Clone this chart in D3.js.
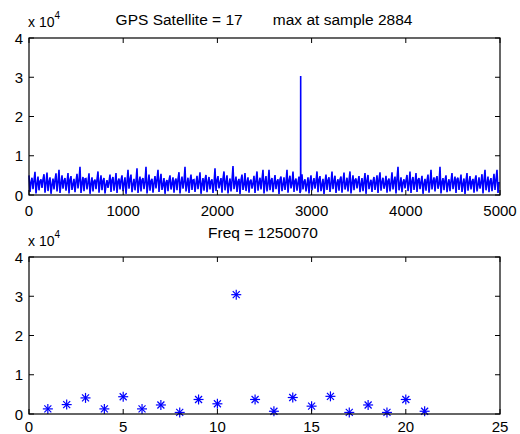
<!DOCTYPE html>
<html>
<head>
<meta charset="utf-8">
<style>
  body { margin: 0; background: #fff; }
  svg text { font-family: "Liberation Sans", Arial, sans-serif; fill: #000; }
</style>
</head>
<body>
<svg width="520" height="434"></svg>
<script src="https://d3js.org/d3.v7.min.js"></script>
<script>
// correlation trace in units of 10^4
// a "hi", "lo" and "mid" reading per ~32 samples
const nSamples = 5000;
const traceHi = [
  0.50,0.44,0.59,0.47,0.40,0.53,0.57,0.45,0.42,0.55,
  0.64,0.50,0.43,0.56,0.48,0.41,0.54,0.72,0.46,0.42,
  0.55,0.45,0.39,0.60,0.50,0.43,0.38,0.52,0.46,0.56,
  0.42,0.50,0.45,0.64,0.52,0.41,0.68,0.47,0.43,0.72,
  0.52,0.41,0.48,0.64,0.54,0.43,0.38,0.50,0.45,0.42,
  0.58,0.47,0.72,0.44,0.52,0.39,0.49,0.58,0.43,0.51,
  0.46,0.40,0.68,0.48,0.43,0.60,0.50,0.42,0.74,0.47,
  0.41,0.52,0.56,0.45,0.39,0.49,0.60,0.44,0.64,0.48,
  0.64,0.43,0.51,0.40,0.47,0.45,0.64,0.49,0.60,0.42,
  0.47,0.53,0.40,0.45,0.50,0.43,0.60,0.48,0.41,0.52,
  0.45,0.60,0.49,0.40,0.47,0.57,0.44,0.60,0.50,0.42,
  0.48,0.43,0.56,0.51,0.39,0.46,0.50,0.58,0.44,0.49,
  0.42,0.58,0.47,0.72,0.45,0.40,0.51,0.60,0.46,0.56,
  0.43,0.49,0.41,0.52,0.64,0.45,0.48,0.72,0.43,0.50,
  0.40,0.56,0.47,0.44,0.52,0.42,0.56,0.48,0.41,0.50,
  0.45,0.53,0.64,0.47,0.43,0.54,0.64
];
const traceLo = [
  0.08,0.15,0.04,0.12,0.18,0.06,0.10,0.03,0.14,0.09,
  0.05,0.16,0.11,0.04,0.13,0.07,0.17,0.05,0.10,0.14,
  0.03,0.09,0.15,0.06,0.12,0.04,0.18,0.08,0.11,0.05,
  0.14,0.10,0.03,0.16,0.07,0.12,0.05,0.09,0.15,0.04,
  0.11,0.06,0.17,0.08,0.13,0.03,0.10,0.14,0.06,0.12,
  0.04,0.16,0.09,0.05,0.13,0.08,0.15,0.03,0.11,0.07,
  0.14,0.05,0.10,0.17,0.06,0.12,0.04,0.09,0.15,0.08,
  0.03,0.13,0.10,0.06,0.16,0.05,0.11,0.14,0.04,0.09,
  0.12,0.07,0.15,0.03,0.10,0.13,0.06,0.17,0.08,0.11,
  0.05,0.14,0.09,0.04,0.12,0.16,0.07,0.10,0.03,0.13,
  0.08,0.15,0.05,0.11,0.06,0.14,0.09,0.04,0.12,0.17,
  0.07,0.10,0.03,0.15,0.08,0.13,0.05,0.11,0.16,0.06,
  0.09,0.14,0.04,0.12,0.07,0.17,0.10,0.05,0.13,0.08,
  0.15,0.03,0.11,0.06,0.14,0.09,0.16,0.04,0.12,0.07,
  0.10,0.15,0.05,0.13,0.08,0.03,0.11,0.14,0.06,0.09,
  0.16,0.04,0.12,0.07,0.10,0.13,0.05
];
const traceMid = [
  0.32,0.37,0.28,0.35,0.40,0.30,0.34,0.26,0.38,0.33,
  0.29,0.36,0.31,0.39,0.27,0.34,0.37,0.30,0.41,0.32,
  0.28,0.35,0.39,0.31,0.36,0.26,0.33,0.38,0.30,0.34,
  0.37,0.29,0.32,0.40,0.27,0.35,0.31,0.38,0.33,0.28,
  0.36,0.30,0.39,0.34,0.26,0.32,0.37,0.29,0.35,0.40,
  0.31,0.33,0.28,0.36,0.38,0.30,0.34,0.27,0.39,0.32,
  0.35,0.29,0.37,0.31,0.41,0.33,0.28,0.36,0.30,0.34,
  0.38,0.26,0.32,0.35,0.29,0.37,0.31,0.39,0.33,0.28,
  0.36,0.30,0.34,0.40,0.27,0.32,0.37,0.29,0.35,0.31,
  0.38,0.33,0.28,0.36,0.30,0.34,0.39,0.26,0.32,0.37,
  0.29,0.35,0.31,0.40,0.33,0.28,0.36,0.30,0.38,0.34,
  0.27,0.32,0.37,0.29,0.35,0.31,0.39,0.33,0.28,0.36,
  0.30,0.34,0.41,0.26,0.32,0.37,0.29,0.35,0.31,0.38,
  0.33,0.28,0.36,0.30,0.34,0.39,0.27,0.32,0.37,0.29,
  0.35,0.31,0.40,0.33,0.28,0.36,0.30,0.34,0.38,0.26,
  0.32,0.37,0.29,0.35,0.31,0.39,0.33
];
const peakSample = 2884;
const peakValue = 3.03;

// peak per frequency bin (x 10^4)
const freqBins = [1,2,3,4,5,6,7,8,9,10,11,12,13,14,15,16,17,18,19,20,21];
const binPeaks = [0.13,0.24,0.41,0.13,0.44,0.13,0.23,0.04,0.37,0.26,3.04,
                  0.37,0.07,0.42,0.20,0.45,0.04,0.23,0.04,0.37,0.07];

const topTicks = [0,1000,2000,3000,4000,5000];
const botTicks = [0,5,10,15,20,25];
const yTicks = [0,1,2,3,4];

const satellite = 17;
const freq = 1250070;

const svg = d3.select("svg");
const blue = "#0000ff";
const L = 29, R = 500;

function drawAxes(g, x, y, xt, top, bottom) {
  // ticks inside the box, on all four sides
  xt.forEach(t => {
    g.append("line").attr("x1", x(t)).attr("x2", x(t)).attr("y1", bottom).attr("y2", bottom - 5).attr("stroke", "#000");
    g.append("line").attr("x1", x(t)).attr("x2", x(t)).attr("y1", top).attr("y2", top + 5).attr("stroke", "#000");
    g.append("text").attr("x", x(t)).attr("y", Math.min(bottom + 21, 432)).attr("text-anchor", "middle")
      .attr("font-size", 15).text(t);
  });
  yTicks.forEach(t => {
    g.append("line").attr("x1", L).attr("x2", L + 5).attr("y1", y(t)).attr("y2", y(t)).attr("stroke", "#000");
    g.append("line").attr("x1", R).attr("x2", R - 5).attr("y1", y(t)).attr("y2", y(t)).attr("stroke", "#000");
    g.append("text").attr("x", L - 6).attr("y", y(t) + 5.5).attr("text-anchor", "end")
      .attr("font-size", 15).text(t);
  });
  g.append("rect").attr("x", L).attr("y", top).attr("width", R - L).attr("height", bottom - top)
    .attr("fill", "none").attr("stroke", "#000").attr("stroke-width", 1.2);
  const ex = g.append("text").attr("x", L - 1).attr("y", top - 11).attr("font-size", 14);
  ex.append("tspan").text("x 10");
  ex.append("tspan").attr("dy", -8).attr("font-size", 10).text("4");
}

// ---- top: correlation trace
const gTop = svg.append("g");
const xTop = d3.scaleLinear().domain([0, nSamples]).range([L, R]);
const yTop = d3.scaleLinear().domain([0, 4]).range([195, 38]);

const step = nSamples / traceHi.length;
let pts = [];
traceHi.forEach((v, i) => {
  pts.push([i * step, v]);
  pts.push([i * step + step / 3, traceLo[i]]);
  pts.push([i * step + 2 * step / 3, traceMid[i]]);
});
pts.push([peakSample - 1, 0.1], [peakSample, peakValue], [peakSample + 1, 0.12]);
pts.sort((a, b) => a[0] - b[0]);

gTop.append("path").datum(pts)
  .attr("d", d3.line().x(d => xTop(d[0])).y(d => yTop(d[1])))
  .attr("fill", "none").attr("stroke", blue).attr("stroke-width", 1.6)
  .attr("stroke-linejoin", "miter").attr("stroke-miterlimit", 2);

drawAxes(gTop, xTop, yTop, topTicks, 38, 195);
gTop.append("text").attr("x", 264).attr("y", 25).attr("text-anchor", "middle").attr("font-size", 15.5)
  .attr("xml:space", "preserve")
  .text(`GPS Satellite = ${satellite}       max at sample ${peakSample}`);

// ---- bottom: peaks per frequency
const gBot = svg.append("g");
const xBot = d3.scaleLinear().domain([0, 25]).range([L, R]);
const yBot = d3.scaleLinear().domain([0, 4]).range([414, 257]);

const r = 5;
freqBins.forEach((f, i) => {
  const cx = xBot(f), cy = yBot(binPeaks[i]);
  const s = gBot.append("g").attr("stroke", blue).attr("stroke-width", 1.2);
  s.append("line").attr("x1", cx - r).attr("x2", cx + r).attr("y1", cy).attr("y2", cy);
  s.append("line").attr("x1", cx).attr("x2", cx).attr("y1", cy - r).attr("y2", cy + r);
  s.append("line").attr("x1", cx - r * 0.7).attr("x2", cx + r * 0.7).attr("y1", cy - r * 0.7).attr("y2", cy + r * 0.7);
  s.append("line").attr("x1", cx - r * 0.7).attr("x2", cx + r * 0.7).attr("y1", cy + r * 0.7).attr("y2", cy - r * 0.7);
});

drawAxes(gBot, xBot, yBot, botTicks, 257, 414);
gBot.append("text").attr("x", 263).attr("y", 238).attr("text-anchor", "middle").attr("font-size", 15.5)
  .text(`Freq = ${freq}`);
</script>
</body>
</html>
